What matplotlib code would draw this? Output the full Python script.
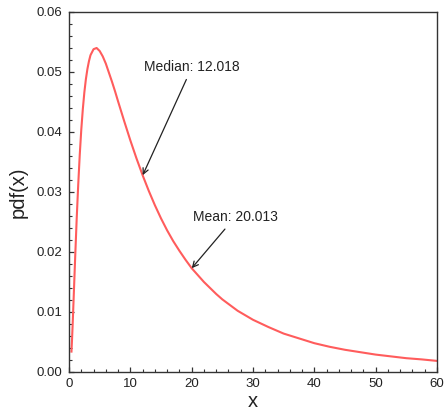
import matplotlib
matplotlib.use("Agg")
import matplotlib.pyplot as plt
from matplotlib.ticker import MultipleLocator

plt.rcParams['font.family'] = ['Liberation Sans', 'DejaVu Sans']

# Values
x_vals = [0.4, 0.5, 0.6, 0.8, 1.0, 1.25, 1.5, 1.75, 2.0, 2.25, 2.5, 2.75, 3.0,
          3.25, 3.5, 4.0, 4.5, 5.0, 5.5, 6.0, 6.5, 7.0, 7.5, 8.0, 9.0, 10.0,
          11.0, 12.0, 13.0, 14.0, 15.0, 16.0, 17.0, 18.0, 19.0, 20.0, 22.0,
          24.0, 25.0, 27.5, 30.0, 32.5, 35.0, 37.5, 40.0, 42.5, 45.0, 47.5,
          50.0, 52.5, 55.0, 57.5, 60.0]
pdf_vals = [0.0034, 0.0056, 0.0081, 0.0135, 0.0190, 0.0255, 0.0312, 0.0362,
            0.0404, 0.0438, 0.0466, 0.0488, 0.0505, 0.0518, 0.0528, 0.0538,
            0.0540, 0.0535, 0.0526, 0.0514, 0.0499, 0.0484, 0.0468, 0.0451,
            0.0418, 0.0386, 0.0356, 0.0328, 0.0302, 0.0278, 0.0256, 0.0236,
            0.0218, 0.0202, 0.0187, 0.0173, 0.0150, 0.0130, 0.0121, 0.0102,
            0.0087, 0.0075, 0.0064, 0.0056, 0.0048, 0.0042, 0.0037, 0.0033,
            0.0029, 0.0026, 0.0023, 0.0021, 0.00185]

median_val = 12.018
median_pdf = 0.0328
mean_val = 20.013
mean_pdf = 0.0173

fig = plt.figure(figsize=(4.47, 4.12), dpi=100)
ax = fig.add_axes([0.1544, 0.0971, 0.8232, 0.8738])

ax.plot(x_vals, pdf_vals, color='#ff5c5c', lw=1.5)

ax.set_xlim(0, 60)
ax.set_ylim(0, 0.06)
ax.xaxis.set_major_locator(MultipleLocator(10))
ax.xaxis.set_minor_locator(MultipleLocator(2))
ax.yaxis.set_major_locator(MultipleLocator(0.01))
ax.yaxis.set_minor_locator(MultipleLocator(0.002))
ax.yaxis.set_major_formatter(plt.FuncFormatter(lambda v, p: f"{v:.2f}"))
ax.xaxis.set_major_formatter(plt.FuncFormatter(lambda v, p: f"{v:.0f}"))

ax.tick_params(which='both', direction='in', top=False, right=False,
               colors='#333333', labelcolor='#222222', labelsize=9.5)
ax.tick_params(which='major', length=3.6, width=0.9)
ax.tick_params(which='minor', length=2.2, width=0.8)
ax.tick_params(axis='y', pad=5)
ax.tick_params(axis='x', pad=4)
for s in ax.spines.values():
    s.set_color('#333333')
    s.set_linewidth(1.0)

ax.set_xlabel('x', fontsize=14.5, color='#222222', labelpad=2)
ax.set_ylabel('pdf(x)', fontsize=14.5, color='#222222', labelpad=6)

arrow = dict(arrowstyle='->', color='#222222', lw=0.9, shrinkA=2, shrinkB=0)
ax.annotate(f'Median: {median_val}', xy=(median_val, median_pdf),
            xytext=(20.05, 0.0508), ha='center', va='center', fontsize=10,
            color='#222222', arrowprops=arrow)
ax.annotate(f'Mean: {mean_val}', xy=(mean_val, mean_pdf),
            xytext=(27.07, 0.0258), ha='center', va='center', fontsize=10,
            color='#222222', arrowprops=arrow)

fig.savefig('out.png', dpi=100)
